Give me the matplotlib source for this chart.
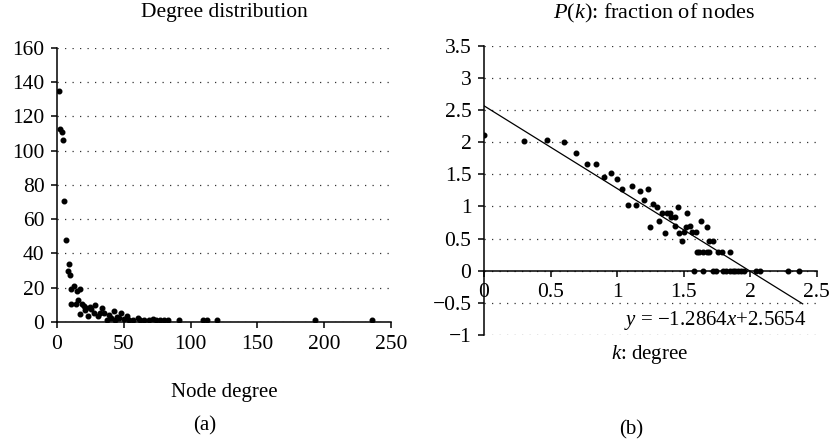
import numpy as np
import matplotlib
matplotlib.use("Agg")
import matplotlib.pyplot as plt
from matplotlib.ticker import FuncFormatter

plt.rcParams['font.family'] = ['Liberation Serif', 'DejaVu Serif']
plt.rcParams['mathtext.fontset'] = 'custom'
plt.rcParams['mathtext.rm'] = 'Liberation Serif'
plt.rcParams['mathtext.it'] = 'Liberation Serif:italic'

# (a) degree distribution: node degree vs number of nodes
deg = [1.5, 2, 3.5, 4.2, 5, 6.5, 8.7, 8, 10, 10.7, 10.7, 13, 14, 15, 17, 16, 17.5,
       18.7, 20, 21, 22, 23, 24.5, 25.5, 27.4, 28.7, 30.4, 32, 33.7, 35.4, 37.4,
       38.7, 40.7, 42.4, 43.7, 45, 46.4, 47.9, 50, 52.4, 54, 57, 60.6, 62.4, 65,
       68.6, 71.6, 74.4, 76.8, 79.8, 83, 91.6, 109, 112.5, 119.5, 193, 235.8]
cnt = [135, 112.4, 110.8, 106.1, 70.6, 47.6, 33.8, 30, 27.6, 19.2, 10.7, 21.2, 10.7,
       17.9, 19.4, 13, 4.9, 10.7, 9.3, 7, 8.4, 3.5, 8.6, 7.4, 5.4, 10.1, 3.3, 5.4,
       8, 5, 1.2, 4.3, 2.5, 6.4, 1.2, 2.9, 2.1, 5, 1.9, 3.3, 1.2, 1.2, 2.5, 1.2,
       1.2, 1.2, 1.9, 1.2, 1.2, 1.2, 1.2, 1.2, 1.2, 1.2, 1.2, 1.2, 1.2]

# (b) log-log: log10 degree vs log10 P(k)
logk = [0, 0.298, 0.471, 0.599, 0.694, 0.774, 0.842, 0.899, 0.952, 0.997, 1.04,
        1.082, 1.112, 1.14, 1.172, 1.2, 1.232, 1.245, 1.273, 1.298, 1.315, 1.34,
        1.36, 1.375, 1.398, 1.408, 1.435, 1.438, 1.46, 1.468, 1.485, 1.5, 1.515,
        1.526, 1.55, 1.56, 1.578, 1.593, 1.598, 1.618, 1.63, 1.643, 1.648, 1.673,
        1.673, 1.693, 1.693, 1.72, 1.72, 1.743, 1.761, 1.786, 1.794, 1.819, 1.849,
        1.849, 1.869, 1.889, 1.911, 1.929, 1.954, 2.042, 2.074, 2.282, 2.367]
logp = [2.115, 2.02, 2.027, 2.006, 1.83, 1.66, 1.66, 1.457, 1.519, 1.431, 1.27,
        1.021, 1.312, 1.021, 1.239, 1.099, 1.265, 0.684, 1.037, 0.985, 0.767, 0.902,
        0.591, 0.902, 0.902, 0.829, 0.835, 0.7, 0.99, 0.591, 0.467, 0.596, 0.679,
        0.897, 0.695, 0.596, 0, 0.596, 0.295, 0.295, 0.772, 0, 0.295, 0.674,
        0.295, 0.461, 0.295, 0.461, 0, 0, 0.295, 0.295, 0, 0, 0.295,
        0, 0, 0, 0, 0, 0, 0, 0, 0, 0]

slope = -1.2864
intercept = 2.5654
fit_x = [0, 2.395]

fs = 15.5
grid_style = dict(color='#333333', linestyle=(0, (1, 5)), linewidth=0.9)


def fmt(v, pos):
    return ('%g' % v).replace('-', '\u2212')


fig = plt.figure(figsize=(8.33, 4.45), dpi=100)

# ---------- (a)
ax1 = fig.add_axes([0.0684, 0.2764, 0.401, 0.6164])
ax1.plot(deg, cnt, 'o', color='black', ms=3.3, zorder=3)
ax1.set_xlim(0, 250)
ax1.set_ylim(0, 160)
ax1.set_xticks(np.arange(0, 251, 50))
ax1.set_yticks(np.arange(0, 161, 20))
ax1.yaxis.grid(True, **grid_style)
ax1.set_axisbelow(True)

# ---------- (b)
ax2 = fig.add_axes([0.581, 0.2472, 0.3994, 0.6501])
ax2.plot(logk, logp, 'o', color='black', ms=3.3, zorder=3)
fx = np.array(fit_x)
ax2.plot(fx, slope * fx + intercept, color='black', lw=0.9, zorder=2)
ax2.set_xlim(0, 2.5)
ax2.set_ylim(-1, 3.5)
ax2.set_xticks(np.arange(0, 2.51, 0.5))
ax2.set_yticks(np.arange(-1, 3.51, 0.5))
ax2.yaxis.grid(True, **grid_style)
ax2.set_axisbelow(True)
ax2.spines['bottom'].set_position(('data', 0))
ax2.text(2.427, -0.767, '$y$ = \u22121.2864$x$+2.5654', ha='right', va='center',
         fontsize=15)

for ax in (ax1, ax2):
    for s in ('top', 'right'):
        ax.spines[s].set_visible(False)
    for s in ('left', 'bottom'):
        ax.spines[s].set_linewidth(1.1)
    ax.tick_params(direction='out', length=4, width=1.1, labelsize=fs, pad=5)
    ax.xaxis.set_major_formatter(FuncFormatter(fmt))
    ax.yaxis.set_major_formatter(FuncFormatter(fmt))

W, H = 833, 445
def ftext(x, y, s, size):
    fig.text(x / W, 1 - y / H, s, ha='center', va='center', fontsize=size)

ftext(224, 13, 'Degree distribution', 15.5)
ftext(654, 13, '$P$($k$): fraction of nodes', 16)
ftext(224, 392, 'Node degree', 15)
ftext(650, 355, '$k$: degree', 15)
ftext(205, 426, '(a)', 15)
ftext(631, 430, '(b)', 15)

fig.savefig('out.png', dpi=100)
